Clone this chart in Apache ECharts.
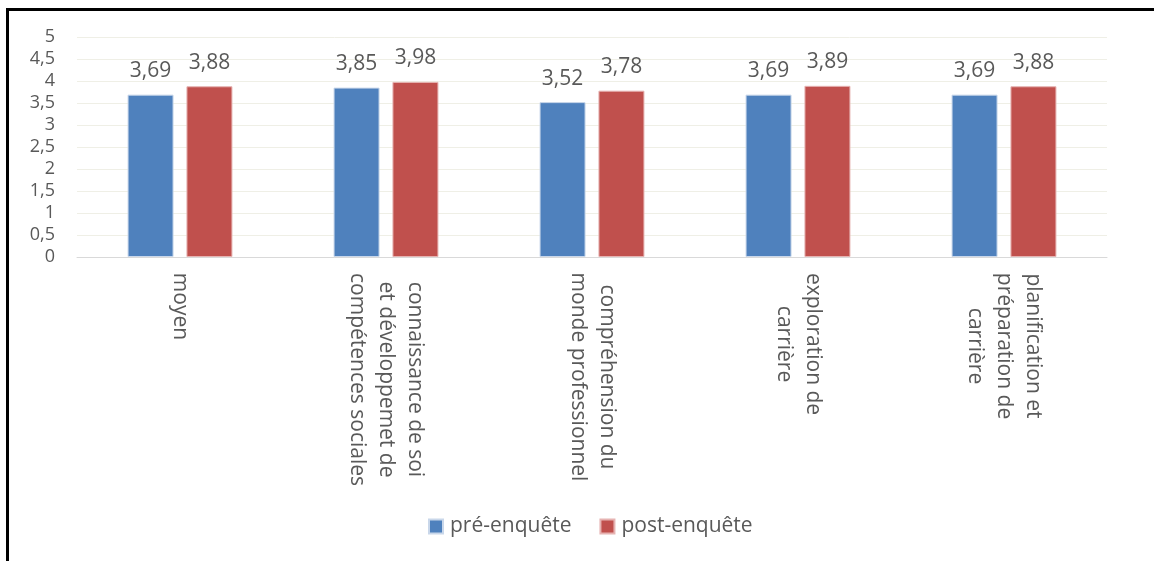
<!DOCTYPE html>
<html>
<head>
<meta charset="utf-8">
<script src="https://cdn.jsdelivr.net/npm/echarts@6/dist/echarts.min.js"></script>
<style>
html,body{margin:0;padding:0;background:#fff;overflow:hidden;}
#frame{position:absolute;left:6px;top:8px;width:1300px;height:700px;border-top:3px solid #000;border-left:3px solid #000;box-sizing:border-box;}
#chart{position:absolute;left:0;top:0;width:1154px;height:561px;}
</style>
</head>
<body>
<div id="frame"></div>
<div id="chart"></div>
<script>
const categories = [
  "moyen",
  "connaissance de soi\net développemet de\ncompétences sociales",
  "compréhension du\nmonde professionnel",
  "exploration de\ncarrière",
  "planification et\npréparation de\ncarrière"
];
const seriesNames = ["pré-enquête", "post-enquête"];
const preValues = [3.69, 3.85, 3.52, 3.69, 3.69];
const postValues = [3.88, 3.98, 3.78, 3.89, 3.88];
const yTicks = [0, 0.5, 1, 1.5, 2, 2.5, 3, 3.5, 4, 4.5, 5];

const FONT = '"Open Sans", sans-serif';
const TXT = '#595959';
const XFS = 21;
const fmtNum = v => String(v).replace('.', ',');

// per-category rich styles so that multi-line labels are centred line by line
const measureCtx = document.createElement('canvas').getContext('2d');
measureCtx.font = XFS + 'px ' + FONT;
const rich = {};
categories.forEach((c, i) => {
  const w = Math.max.apply(null, c.split('\n').map(l => measureCtx.measureText(l).width));
  rich['c' + i] = {width: Math.ceil(w) + 1, align: 'center', fontFamily: FONT, fontSize: XFS, color: TXT, lineHeight: 29};
});

const chart = echarts.init(document.getElementById('chart'), null, {renderer: 'canvas'});
chart.setOption({
  animation: false,
  backgroundColor: 'transparent',
  textStyle: {fontFamily: FONT},
  legend: {
    data: seriesNames,
    left: 423,
    top: 511,
    itemWidth: 14,
    itemHeight: 14,
    itemGap: 28,
    icon: 'rect',
    textStyle: {fontFamily: FONT, fontSize: 21, color: TXT, padding: [0, 0, 0, 2]}
  },
  grid: {left: 77, right: 47, top: 37, bottom: 304, containLabel: false},
  xAxis: {
    type: 'category',
    data: categories,
    axisLine: {lineStyle: {color: '#d9d9d9', width: 1}},
    axisTick: {show: false},
    axisLabel: {
      rotate: -90,
      margin: 15,
      interval: 0,
      color: TXT,
      fontFamily: FONT,
      fontSize: XFS,
      formatter: (v, idx) => v.split('\n').map(l => '{c' + idx + '|' + l + '}').join('\n'),
      rich: rich
    }
  },
  yAxis: {
    type: 'value',
    min: 0,
    max: 5,
    interval: 0.5,
    axisLine: {show: false},
    axisTick: {show: false},
    splitLine: {lineStyle: {color: '#efefe6', width: 1}},
    axisLabel: {
      margin: 22,
      color: TXT,
      fontFamily: FONT,
      fontSize: 18,
      formatter: v => yTicks.indexOf(v) >= 0 ? fmtNum(v) : ''
    }
  },
  series: [
    {
      name: seriesNames[0],
      type: 'bar',
      data: preValues,
      barWidth: 46,
      barGap: '28%',
      itemStyle: {color: '#4F81BD', borderColor: '#c9d7ea', borderWidth: 1},
      label: {show: true, position: 'top', distance: 13, color: TXT, fontFamily: FONT, fontSize: 21, formatter: p => fmtNum(p.value)}
    },
    {
      name: seriesNames[1],
      type: 'bar',
      data: postValues,
      barWidth: 46,
      barGap: '28%',
      itemStyle: {color: '#C0504D', borderColor: '#e6b3b2', borderWidth: 1},
      label: {show: true, position: 'top', distance: 13, color: TXT, fontFamily: FONT, fontSize: 21, formatter: p => fmtNum(p.value)}
    }
  ]
});
</script>
</body>
</html>
